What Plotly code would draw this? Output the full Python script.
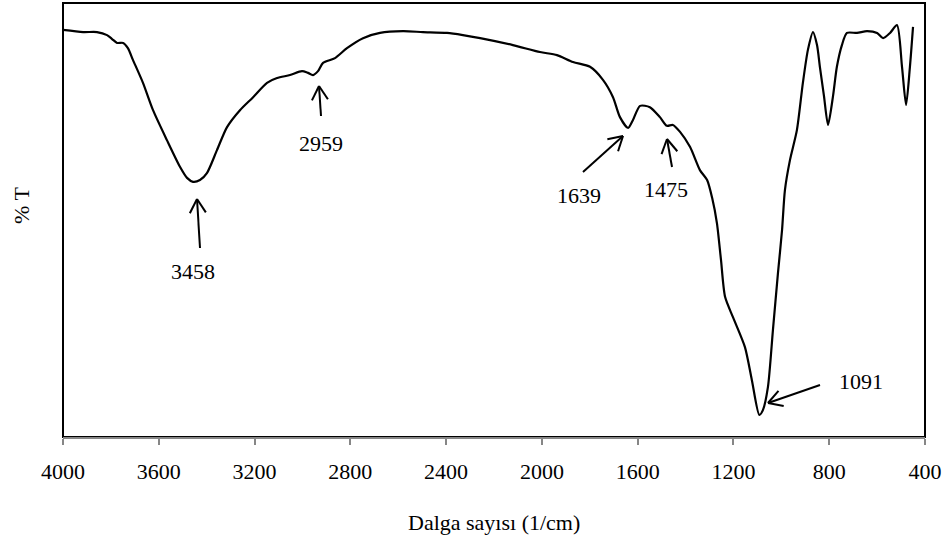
import math
import plotly.graph_objects as go

# ---- data ----
wavenumber = [4000, 3916, 3858, 3816, 3795, 3774, 3749, 3729, 3708, 3666, 3624, 3566,
              3511, 3482, 3457, 3428, 3399, 3357, 3315, 3261, 3206, 3148, 3106, 3052,
              3002, 2977, 2956, 2935, 2914, 2864, 2814, 2747, 2676, 2580, 2497, 2396,
              2330, 2258, 2121, 2008, 1937, 1870, 1799, 1745, 1703, 1674, 1640, 1620,
              1590, 1549, 1507, 1478, 1453, 1423, 1381, 1340, 1310, 1289, 1269, 1252,
              1235, 1202, 1152, 1123, 1092, 1077, 1056, 1035, 1014, 997, 985, 964,
              935, 910, 889, 868, 851, 839, 822, 805, 784, 768, 747, 726,
              684, 642, 600, 575, 546, 517, 496, 479, 463, 450]
transmittance = [93.8, 93.3, 93.3, 92.6, 91.7, 90.8, 90.8, 89.6, 86.9, 81.6, 75.3, 68.4,
                 62.2, 59.7, 58.8, 59.2, 60.8, 66.1, 71.4, 75.3, 78.3, 81.6, 82.7, 83.4,
                 84.3, 83.9, 83.4, 84.3, 86.2, 87.3, 89.6, 91.9, 93.1, 93.5, 93.3, 93.1,
                 92.6, 91.9, 90.3, 88.7, 88.0, 86.4, 85.3, 82.3, 78.3, 73.7, 71.2, 73.0,
                 76.3, 76.0, 73.7, 71.7, 71.9, 70.3, 66.8, 61.5, 59.2, 55.1, 49.3, 40.8,
                 32.3, 27.6, 20.7, 13.1, 5.1, 6.2, 11.5, 24.7, 37.8, 47.7, 56.9, 63.8,
                 70.7, 81.6, 89.2, 93.3, 90.3, 85.3, 78.6, 71.9, 78.6, 85.3, 90.3, 93.1,
                 93.1, 93.5, 93.1, 91.9, 93.1, 94.9, 85.3, 76.5, 85.3, 94.5]

tick_values = [4000, 3600, 3200, 2800, 2400, 2000, 1600, 1200, 800, 400]
peak_labels = ["3458", "2959", "1639", "1475", "1091"]

# ---- layout geometry (pixels) ----
W, H = 948, 542
L, R, T, B = 63, 925, 3, 437
FONT = "Liberation Serif, Times New Roman, serif"


def px_to_paper(px, py):
    return (px - L) / (R - L), (B - py) / (B - T)


# arrow tip, tail and label centre in pixels for each peak label
arrow_tips = [(197, 199), (319, 86), (623, 136), (667, 139), (768, 403)]
arrow_tails = [(200, 248), (321, 116), (583, 172), (672, 167), (820, 385)]
label_centres = [(193, 272), (321, 143), (579, 195), (666, 190), (861, 381)]

fig = go.Figure()
fig.add_trace(go.Scatter(
    x=wavenumber, y=transmittance, mode="lines",
    line=dict(color="black", width=2.2, shape="spline", smoothing=0.7),
    hoverinfo="skip", showlegend=False))

shapes = []
# plot-area frame
shapes.append(dict(type="rect", xref="paper", yref="paper", x0=0, y0=0, x1=1, y1=1,
                   line=dict(color="black", width=2), layer="below"))


def seg(p, q):
    x0, y0 = px_to_paper(*p)
    x1, y1 = px_to_paper(*q)
    return dict(type="line", xref="paper", yref="paper", x0=x0, y0=y0, x1=x1, y1=y1,
                line=dict(color="black", width=2))


for tip, tail in zip(arrow_tips, arrow_tails):
    shapes.append(seg(tail, tip))
    dx, dy = tail[0] - tip[0], tail[1] - tip[1]
    n = math.hypot(dx, dy)
    ux, uy = dx / n, dy / n
    for ang in (math.radians(30), math.radians(-30)):
        ax = ux * math.cos(ang) - uy * math.sin(ang)
        ay = ux * math.sin(ang) + uy * math.cos(ang)
        shapes.append(seg(tip, (tip[0] + 16 * ax, tip[1] + 16 * ay)))

annotations = []
for lab, (cx, cy) in zip(peak_labels, label_centres):
    x, y = px_to_paper(cx, cy)
    annotations.append(dict(text=lab, x=x, y=y, xref="paper", yref="paper",
                            showarrow=False, xanchor="center", yanchor="middle",
                            font=dict(family=FONT, size=22, color="black")))

# axis titles
x, y = px_to_paper(494, 522)
annotations.append(dict(text="Dalga sayısı (1/cm)", x=x, y=y, xref="paper", yref="paper",
                        showarrow=False, xanchor="center", yanchor="middle",
                        font=dict(family=FONT, size=22, color="black")))
x, y = px_to_paper(21, 206)
annotations.append(dict(text="% T", x=x, y=y, xref="paper", yref="paper",
                        showarrow=False, xanchor="center", yanchor="middle", textangle=-90,
                        font=dict(family=FONT, size=22, color="black")))

fig.update_layout(
    width=W, height=H,
    margin=dict(l=L, r=W - R, t=T, b=H - B),
    paper_bgcolor="white", plot_bgcolor="white",
    shapes=shapes, annotations=annotations,
    xaxis=dict(range=[4000, 400], tickvals=tick_values,
               ticktext=[str(v) for v in tick_values],
               ticks="outside", ticklen=6, tickwidth=1.5, tickcolor="#868686",
               showline=True, linecolor="#868686", linewidth=2,
               showgrid=False, zeroline=False, ticklabelstandoff=8,
               tickfont=dict(family=FONT, size=22, color="black")),
    yaxis=dict(range=[0, 100], showticklabels=False, ticks="", showgrid=False,
               zeroline=False, showline=False),
)

fig.write_html("out.html")
